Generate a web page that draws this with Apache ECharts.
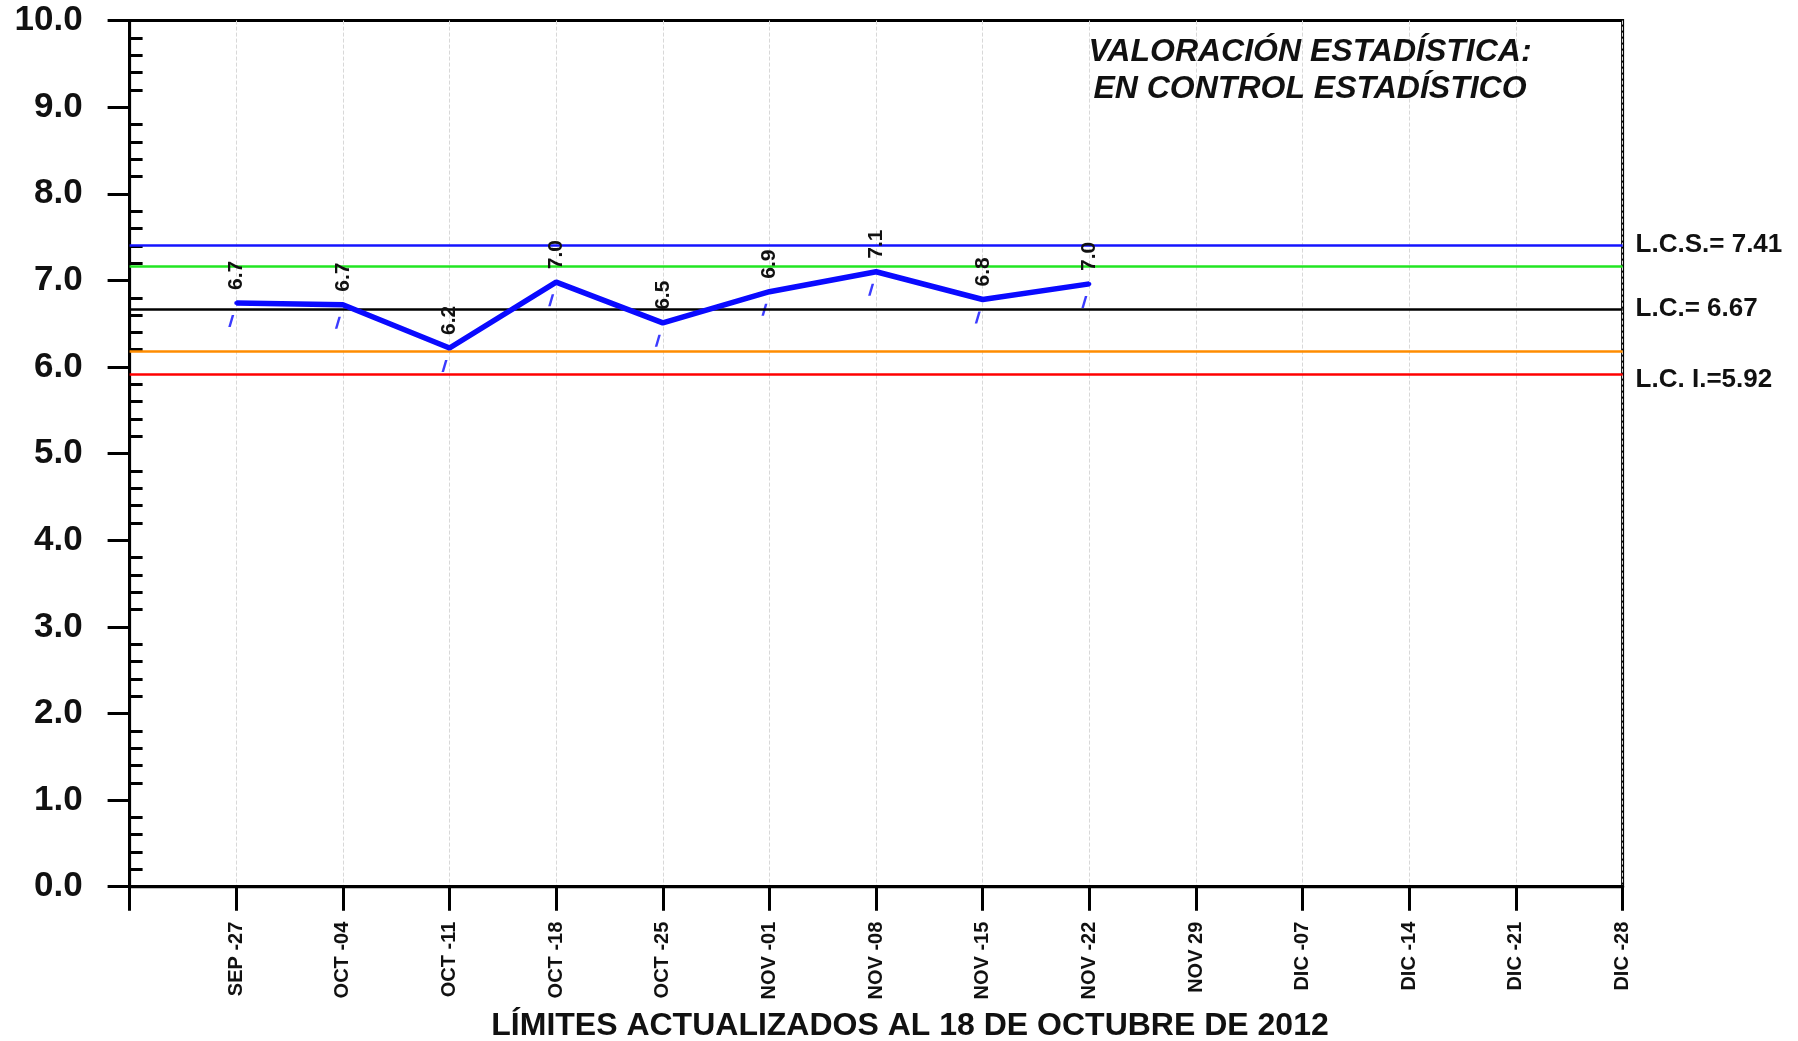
<!DOCTYPE html>
<html>
<head>
<meta charset="utf-8">
<title>Valoración estadística</title>
<script src="https://cdn.jsdelivr.net/npm/echarts@6/dist/echarts.min.js"></script>
<style>
  html,body{margin:0;padding:0;background:#fff;}
  #chartmain{width:1798px;height:1041px;}
</style>
</head>
<body>
<div id="chartmain"></div>
<script>
// semanas (la primera posicion va vacia, coincide con el eje Y)
var semanas = ['', 'SEP -27', 'OCT -04', 'OCT -11', 'OCT -18', 'OCT -25', 'NOV -01', 'NOV -08',
    'NOV -15', 'NOV -22', 'NOV 29', 'DIC -07', 'DIC -14', 'DIC -21', 'DIC -28'];
var valores = ['-', 6.74, 6.72, 6.22, 6.98, 6.51, 6.87, 7.10, 6.78, 6.96];

// limites de control
var limites = [7.41, 7.16, 6.67, 6.18, 5.92];
var limitesColor = ['#1414ff', '#22e622', '#000000', '#ff8c00', '#ff0000'];
var limitesTexto = ['L.C.S.= 7.41', '', 'L.C.= 6.67', '', 'L.C. I.=5.92'];

var ejeY = [0, 10, 1];

var fuente = 'Liberation Sans, Arial, sans-serif';

var myChart = echarts.init(document.getElementById('chartmain'));

// el texto del limite inferior va un poco por debajo de su linea
var lineasLimite = limites.map(function(v, i){
    var txt = limitesTexto[i];
    if (i === 4) txt = '{e|}\n{t|' + txt + '}';
    else if (txt) txt = '{t|' + txt + '}';
    return {
        yAxis: v,
        lineStyle: {color: limitesColor[i], width: 2.5, type: 'solid'},
        label: {
            show: limitesTexto[i] !== '',
            formatter: txt,
            position: 'end',
            distance: 13,
            rich: {
                e: {height: 12, lineHeight: 12},
                t: {color: '#111', fontSize: 26, fontWeight: 'bold', fontFamily: fuente, lineHeight: 28}
            }
        }
    };
});

var option = {
    backgroundColor: '#fff',
    animation: false,
    textStyle: {fontFamily: fuente},
    title: [
        {
            text: 'VALORACIÓN ESTADÍSTICA:\nEN CONTROL ESTADÍSTICO',
            left: 1310,
            top: 34,
            padding: 0,
            textAlign: 'center',
            textStyle: {
                fontSize: 32, fontWeight: 'bold', fontStyle: 'italic',
                color: '#111', lineHeight: 37, fontFamily: fuente
            }
        },
        {
            text: 'LÍMITES ACTUALIZADOS AL 18 DE OCTUBRE DE 2012',
            left: 910,
            top: 1010,
            padding: 0,
            textAlign: 'center',
            textStyle: {
                fontSize: 32, fontWeight: 'bold', color: '#111',
                lineHeight: 32, fontFamily: fuente
            }
        }
    ],
    grid: {
        left: 129.6, right: 175.4, top: 20.6, bottom: 154.3,
        show: true, borderColor: '#000', borderWidth: 3,
        containLabel: false
    },
    xAxis: {
        type: 'category',
        data: semanas,
        boundaryGap: false,
        axisLine: {lineStyle: {color: '#000', width: 3}},
        axisTick: {show: true, length: 24, interval: 0, lineStyle: {color: '#000', width: 3}},
        axisLabel: {
            interval: 0, rotate: 90, margin: 35,
            fontSize: 20, fontWeight: 'bold', color: '#111', fontFamily: fuente
        },
        splitLine: {show: true, interval: 0, lineStyle: {color: '#d8d8d8', width: 1, type: 'dashed'}}
    },
    yAxis: [
        {
            type: 'value',
            min: ejeY[0], max: ejeY[1], interval: ejeY[2],
            axisLine: {show: true, lineStyle: {color: '#000', width: 3}},
            axisTick: {show: true, length: 22, lineStyle: {color: '#000', width: 3}},
            axisLabel: {
                margin: 47, fontSize: 35, fontWeight: 'bold', color: '#111', fontFamily: fuente,
                formatter: function(v){ return v.toFixed(1); }
            },
            splitLine: {show: false}
        },
        {
            // solo las marcas menores hacia dentro
            type: 'value',
            position: 'left',
            min: ejeY[0], max: ejeY[1], interval: ejeY[2],
            axisLine: {show: false},
            axisTick: {show: false, inside: true},
            axisLabel: {show: false},
            minorTick: {show: true, splitNumber: 5, length: 13, lineStyle: {color: '#000', width: 3}},
            splitLine: {show: false}
        }
    ],
    series: [
        {
            name: 'limites',
            type: 'line',
            data: [],
            z: 1,
            markLine: {
                silent: true,
                symbol: ['none', 'none'],
                data: lineasLimite
            }
        },
        {
            name: 'promedio',
            type: 'line',
            data: valores,
            z: 5,
            symbol: 'circle',
            symbolSize: 4,
            itemStyle: {color: '#0a0aff'},
            lineStyle: {color: '#0a0aff', width: 5.5},
            label: {
                show: true,
                position: 'top',
                distance: 11,
                rotate: 90,
                align: 'left',
                verticalAlign: 'middle',
                fontSize: 21,
                fontWeight: 'bold',
                color: '#111',
                fontFamily: fuente,
                formatter: function(p){ return Number(p.value).toFixed(1); }
            }
        },
        {
            name: 'marcas',
            type: 'scatter',
            data: valores,
            z: 4,
            symbol: 'path://M3.5,0 L6,0 L2.5,12 L0,12 Z',
            symbolSize: [6, 12],
            symbolOffset: [-5, 18],
            itemStyle: {color: '#0a0aff'}
        }
    ]
};

myChart.setOption(option);
</script>
</body>
</html>
